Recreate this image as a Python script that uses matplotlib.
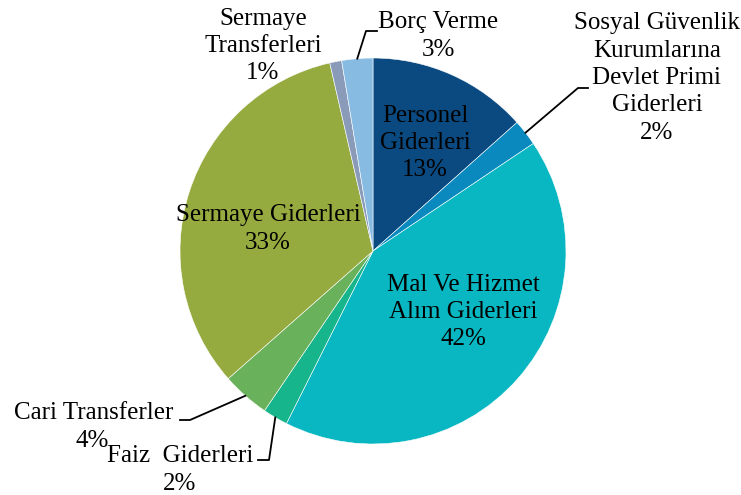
import numpy as np
import matplotlib
matplotlib.use("Agg")
import matplotlib.pyplot as plt

# expense categories, clockwise from 12 o'clock
labels = ["Personel\nGiderleri", "Sosyal Güvenlik\nKurumlarına\nDevlet Primi\nGiderleri",
          "Mal Ve Hizmet\nAlım Giderleri", "Faiz  Giderleri", "Cari Transferler",
          "Sermaye Giderleri", "Sermaye\nTransferleri", "Borç Verme"]
shares = [13.4, 2.2, 41.8, 2.1, 4.0, 32.9, 1.0, 2.6]
colors = ["#0b4a80", "#0a89bf", "#08b7c1", "#16b58b", "#69b15a", "#95ab40", "#8a9bba", "#87bbe2"]

W, H = 741, 495
cx, cy, R = 373, 251, 193

fig = plt.figure(figsize=(W / 100, H / 100), dpi=100)
ax = fig.add_axes([0, 0, 1, 1])
wedges, _ = ax.pie(shares, colors=colors, startangle=90, counterclock=False, radius=1,
                   wedgeprops=dict(edgecolor="white", linewidth=0.4))
ax.set_xlim(-cx / R, (W - cx) / R)
ax.set_ylim((cy - H) / R, cy / R)
ax.set_aspect("auto")
ax.axis("off")

font = dict(family="Liberation Serif", fontsize=18, color="black", ha="center", va="center",
            linespacing=1.32)

def px(x, y):
    return ((x - cx) / R, (cy - y) / R)

def edge_pt(i):
    w = wedges[i]
    a = np.deg2rad((w.theta1 + w.theta2) / 2)
    return np.cos(a), np.sin(a)

# label positions (pixel centres in the reference)
pos = [(425, 143), (657, 78), (463, 312), (180, 470), (92, 427), (268, 229), (263, 46), (438, 36)]
for i, (lab, s) in enumerate(zip(labels, shares)):
    txt = lab + "\n" + "%.0f%%" % s
    x, y = px(*pos[i])
    if i == 4:
        ax.text(*px(94, 413), lab, **font)
        ax.text(*px(92, 441), "%.0f%%" % s, **font)
        continue
    ax.text(x, y, txt, **font)

# leader lines: wedge edge -> elbow -> short horizontal
leaders = {1: [(578, 88), (588, 88)], 4: [(190, 420), (180, 420)],
           3: [(269, 460), (258, 460)], 7: [(366, 31), (377, 31)]}
for i, pts in leaders.items():
    x0, y0 = edge_pt(i)
    xs = [x0] + [px(*p)[0] for p in pts]
    ys = [y0] + [px(*p)[1] for p in pts]
    ax.plot(xs, ys, color="black", lw=1.3)

fig.savefig("out.png", dpi=100)
